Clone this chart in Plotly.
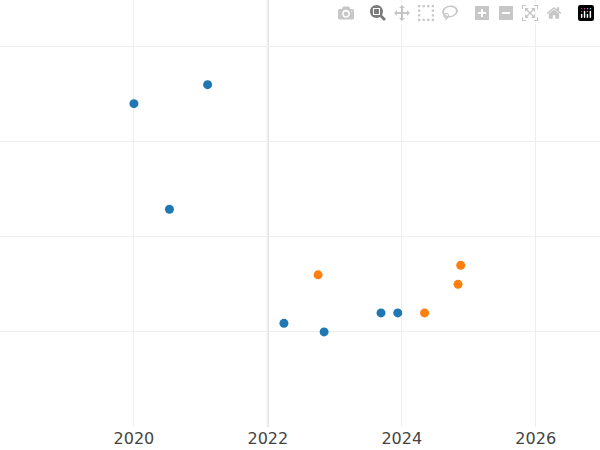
import plotly.graph_objects as go

blue_x = [2020.0, 2021.1, 2020.53, 2022.24, 2022.84, 2023.69, 2023.94]
blue_y = [3.4, 3.6, 2.29, 1.09, 1.0, 1.2, 1.2]
orange_x = [2022.75, 2024.34, 2024.84, 2024.88]
orange_y = [1.6, 1.2, 1.5, 1.7]

fig = go.Figure()
fig.add_trace(go.Scatter(x=blue_x, y=blue_y, mode="markers",
                         marker=dict(color="#1f77b4", size=9)))
fig.add_trace(go.Scatter(x=orange_x, y=orange_y, mode="markers",
                         marker=dict(color="#ff7f0e", size=9)))
fig.add_vline(x=2022, line=dict(color="#e0e0e0", width=2), layer="below")

fig.update_layout(
    width=600, height=450, showlegend=False,
    plot_bgcolor="white", paper_bgcolor="white",
    margin=dict(l=0, r=0, t=0, b=23),
    font=dict(family="DejaVu Sans", size=16, color="#444"),
    xaxis=dict(range=[2018, 2026.96], tickvals=[2020, 2022, 2024, 2026],
               showgrid=True, gridcolor="#eeeeee", zeroline=False),
    yaxis=dict(range=[0, 4.49], dtick=1, showticklabels=False,
               showgrid=True, gridcolor="#eeeeee", zeroline=False),
)
fig.write_html("out.html",
               post_script="document.body.style.margin='0';document.body.style.overflow='hidden';")
